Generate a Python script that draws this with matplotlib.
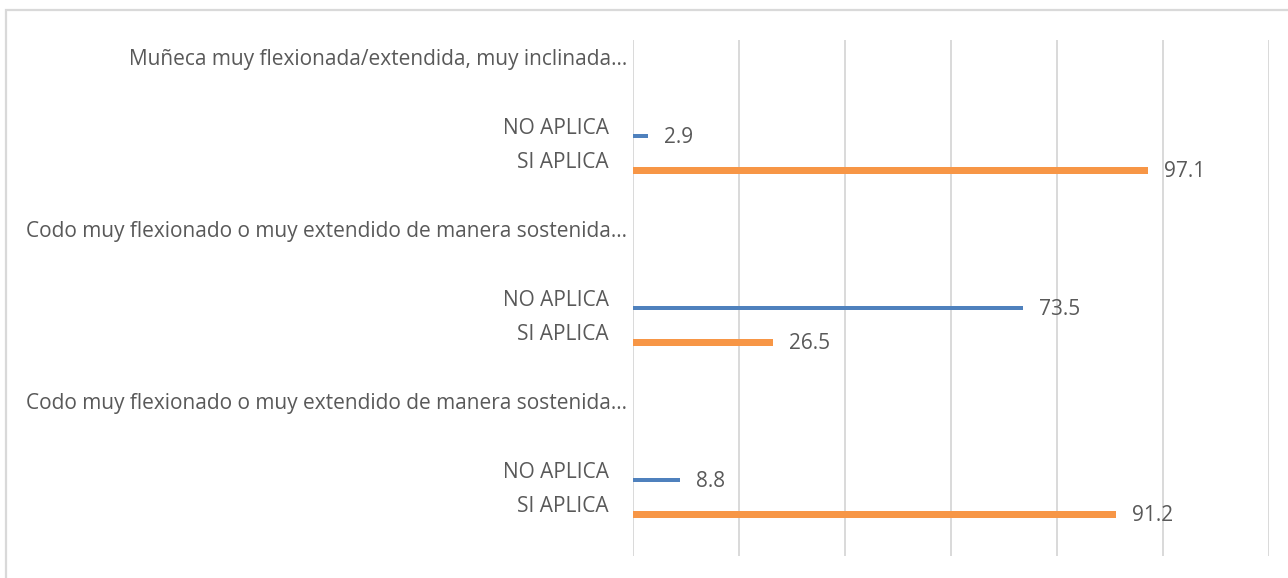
import matplotlib
matplotlib.use("Agg")
import matplotlib.pyplot as plt
from matplotlib.patches import Rectangle

# Categories and values (percent)
groups = [
    "Muñeca muy flexionada/extendida, muy inclinada…",
    "Codo muy flexionado o muy extendido de manera sostenida…",
    "Codo muy flexionado o muy extendido de manera sostenida…",
]
answer_labels = ["NO APLICA", "SI APLICA"]
no_aplica = [2.9, 73.5, 8.8]
si_aplica = [97.1, 26.5, 91.2]
x_ticks = [0, 20, 40, 60, 80, 100, 120]

BLUE = "#4F81BD"
ORANGE = "#F79646"
TEXT = "#595959"
GRID = "#D9D9D9"
FONT = ["Open Sans", "DejaVu Sans"]
FS = 15

plt.rcParams["font.family"] = FONT

W, H = 1288, 578
fig = plt.figure(figsize=(W / 100, H / 100), dpi=100)
fig.patch.set_facecolor("white")

# chart area frame (open at right and bottom)
fig.patches.append(Rectangle((6 / W, -0.1), 1.2, 1 - 10 / H + 0.1,
                             transform=fig.transFigure, fill=False,
                             ec=GRID, lw=1.6))

left, right, top, bottom = 633, 1269, 40, 556
ax = fig.add_axes([left / W, 1 - bottom / H, (right - left) / W, (bottom - top) / H])

rows_per_group = 5
n_rows = rows_per_group * len(groups)
bar_shift = 0.29

header_pos, answer_pos, answer_txt = [], [], []
for g, name in enumerate(groups):
    base = g * rows_per_group
    header_pos.append(base)
    y_no = base + 2
    y_si = base + 3
    answer_pos += [y_no, y_si]
    answer_txt += answer_labels
    ax.barh(y_no + bar_shift, no_aplica[g], height=0.12, color=BLUE, zorder=3)
    ax.barh(y_si + bar_shift, si_aplica[g], height=0.19, color=ORANGE, zorder=3)
    for val, yy in ((no_aplica[g], y_no), (si_aplica[g], y_si)):
        ax.annotate(f"{val}", xy=(val, yy + bar_shift), xytext=(11.5, -1),
                    textcoords="offset points", ha="left", va="center",
                    fontsize=FS, color=TEXT, family=FONT)

ax.set_xlim(x_ticks[0], x_ticks[-1])
ax.set_ylim(n_rows - 0.5, -0.5)
ax.set_xticks(x_ticks)
ax.set_xticklabels([])
ax.grid(axis="x", color=GRID, lw=1.4, zorder=0)
ax.tick_params(axis="x", length=0)

ax.set_yticks(answer_pos)
ax.set_yticklabels(answer_txt)
ax.set_yticks(header_pos, minor=True)
ax.set_yticklabels(groups, minor=True)
ax.tick_params(axis="y", which="major", length=0, pad=17.3, labelsize=FS, labelcolor=TEXT)
ax.tick_params(axis="y", which="minor", length=0, pad=4.3, labelsize=FS, labelcolor=TEXT)

for s in ax.spines.values():
    s.set_visible(False)

fig.savefig("out.png", dpi=100, facecolor="white")
